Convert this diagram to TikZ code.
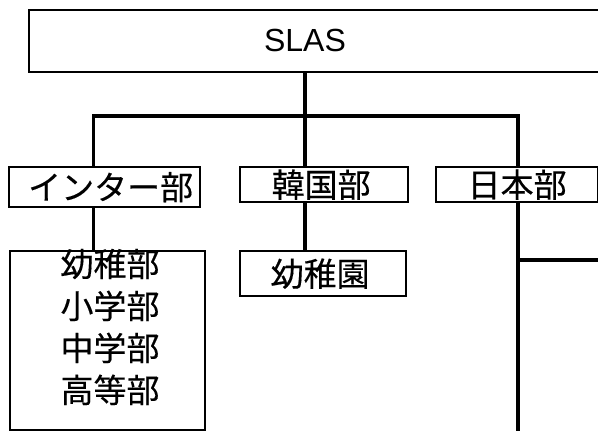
\documentclass[tikz,border=0pt]{standalone}
\usepackage{fontspec}
\setmainfont{Liberation Sans}
\newfontfamily\jp[FakeBold=0.3]{Noto Sans CJK JP}
\begin{document}
\begin{tikzpicture}[x=1pt,y=-1pt,
  boxst/.style={draw=black,line width=2.3pt,rectangle,inner sep=0pt,anchor=north west},
  jptext/.style={font=\jp\fontsize{33}{42}\selectfont,inner sep=0pt,align=center},
  conn/.style={draw=black,line width=3.2pt}]
\useasboundingbox (0,0) rectangle (598,431);
\begin{scope}
\clip (0,0) rectangle (598,431);
% SLAS box (runs past the right edge)
\node[boxst,minimum width=600pt,minimum height=62pt] (slas) at (28,9) {};
\node[font=\fontsize{32}{34}\selectfont,inner sep=0pt] (slast) at (305,40) {SLAS};
% second level
\node[boxst,minimum width=191pt,minimum height=40pt] (inter) at (8,166) {};
\node[jptext] (intert) at ([xshift=6pt]inter.center) {インター部};
\node[boxst,minimum width=168pt,minimum height=35pt] (kan) at (239,166) {};
\node[jptext] (kant) at ([xshift=-3pt]kan.center) {韓国部};
\node[boxst,minimum width=162pt,minimum height=35pt] (nihon) at (435,166) {};
\node[jptext] (nihont) at (nihon.center) {日本部};
% third level
\node[boxst,minimum width=195pt,minimum height=179pt] (schools) at (8.5,250) {};
\node[jptext] (schoolst) at (110,327) {幼稚部\\小学部\\中学部\\高等部};
\node[boxst,minimum width=166pt,minimum height=45pt] (yochien) at (239,250) {};
\node[jptext] (yochient) at ([xshift=-3pt]yochien.center) {幼稚園};
% connector positions
\coordinate (bus) at (305,116);
\coordinate (cx1) at (93.5,0);
\coordinate (cx2) at (305,0);
\coordinate (cx3) at (518,0);
\coordinate (bottom) at (518,440);
\coordinate (rightend) at (610,260);
% connectors
\draw[conn] (slast |- slas.south) -- (bus);
\draw[conn] (cx1 |- inter.north) -- (cx1 |- bus) -- (cx3 |- bus) -- (cx3 |- nihon.north);
\draw[conn] (bus) -- (cx2 |- kan.north);
\draw[conn] (cx1 |- inter.south) -- (cx1 |- schools.north);
\draw[conn] (cx2 |- kan.south) -- (cx2 |- yochien.north);
\draw[conn] (cx3 |- nihon.south) -- (cx3 |- bottom);
\draw[conn] (cx3 |- rightend) -- (rightend);
\end{scope}
\end{tikzpicture}
\end{document}
